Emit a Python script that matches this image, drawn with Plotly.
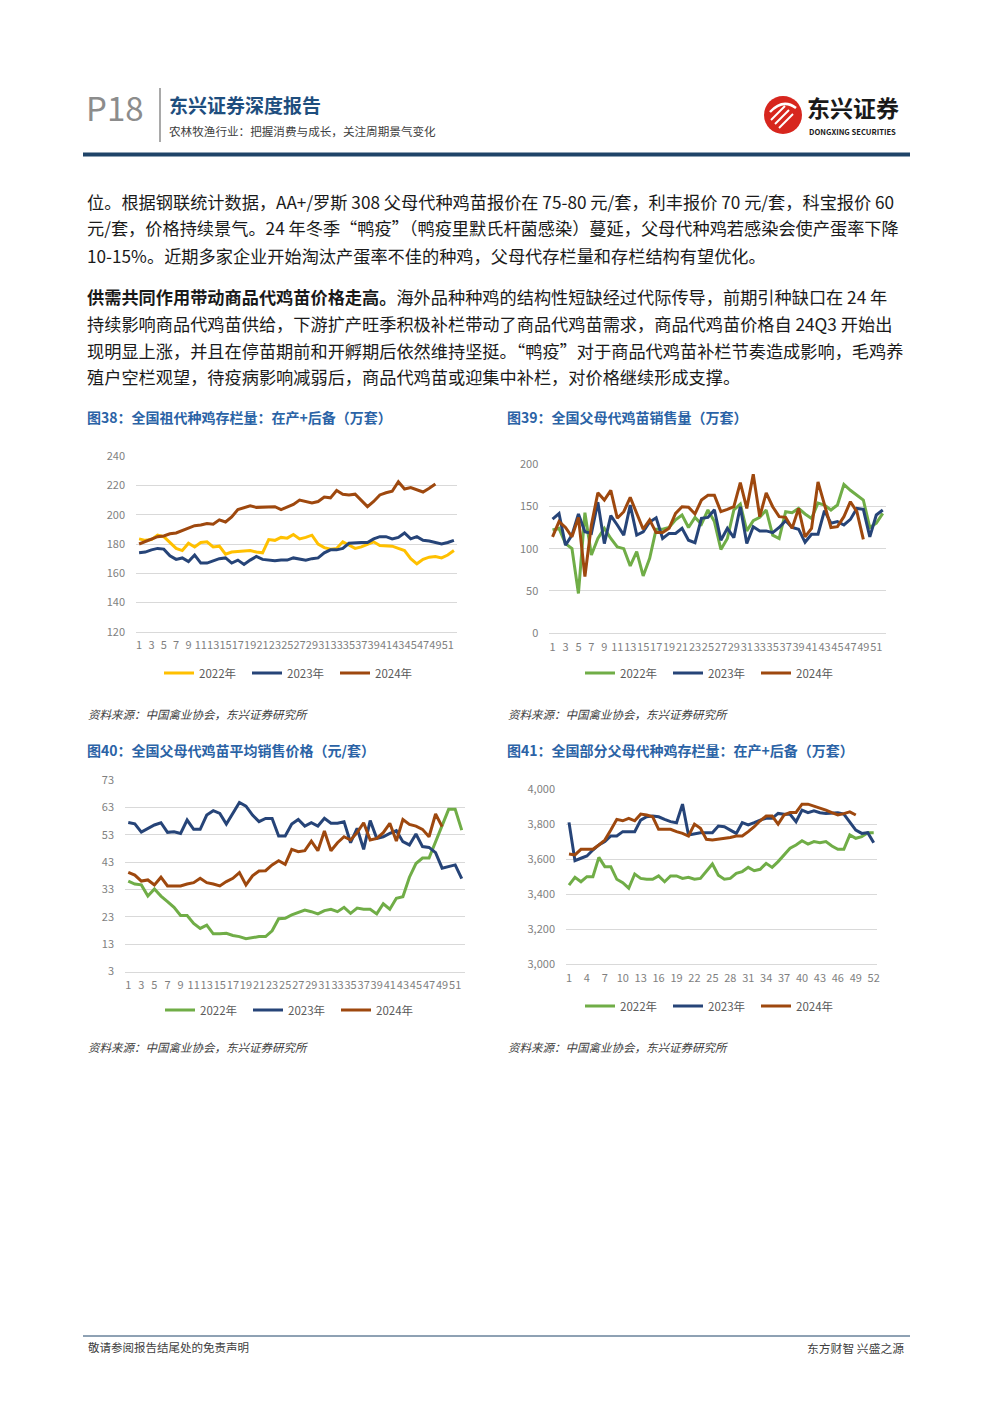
import plotly.graph_objects as go

W, H = 992, 1403
FONT = "Noto Sans CJK SC, Noto Sans, sans-serif"


def px(x):
    return x / W


def py(y):
    return 1 - y / H


weeks = list(range(1, 53))
series_names = ["2022年", "2023年", "2024年"]

# 图38 全国祖代种鸡存栏量（万套）
gp_2022 = [183.5, 182.5, 183, 186, 185, 181, 177, 175.5, 180.5, 178,
           181, 181.5, 178, 178.5, 173, 174.5, 175, 175.5, 175.5, 174.5,
           174, 183, 182.5, 184.5, 184, 186.5, 183.5, 184.5, 186, 180,
           177.5, 176.5, 177, 181.5, 179, 177, 178, 180, 181.5, 179,
           178.5, 178.5, 177, 175.5, 170, 166.5, 169.5, 171, 171.5, 170.5,
           172.5, 175.5]
gp_2023 = [174, 174.5, 176, 177, 176.5, 172, 169.5, 170.5, 168, 172.5,
           167, 167, 168.5, 170, 170.5, 167, 169, 166, 169, 171.5,
           169.5, 169, 168.5, 169, 169, 170.5, 169.5, 169, 170, 170.5,
           174, 176, 176, 177, 180.5, 181, 181, 181, 183.5, 185,
           185, 183.5, 184.5, 187.5, 183.5, 185, 182.5, 182, 181, 180,
           181, 182.5]
gp_2024 = [180, 181.5, 183, 185, 185.5, 187, 187.5, 189, 190.5, 192.5,
           193, 194, 193.5, 196.5, 195, 198.5, 203.5, 204.5, 206, 205,
           205, 205, 205.5, 203.5, 205, 207, 210, 209, 208, 209,
           212, 211.5, 216.5, 214, 213.5, 214, 210, 205.5, 209, 213.5,
           215, 216, 222.5, 217.5, 218.5, 217, 215.5, 218, 221]

# 图39 全国父母代鸡苗销售量（万套）
ps_2022 = [122, 124, 106, 100, 47, 142.5, 92.5, 112, 124, 112,
           102, 100, 79.5, 96.5, 67.7, 88.6, 123, 123, 125, 134,
           139.8, 125, 137, 129, 145.7, 132, 99, 112, 145.7, 152.8,
           121, 133, 137, 145.7, 116, 112, 143.7, 142.5, 147.6, 141,
           135.8, 154, 151.6, 145.7, 151.6, 176, 169, 163, 157.5, 125,
           130, 141.7]
ps_2023 = [135, 141.5, 104, 116, 141, 120, 118, 155, 106, 139,
           128, 116, 151.5, 116, 120, 131.5, 136.5, 112, 118, 118,
           124, 110, 107, 135.8, 137, 146, 110, 124, 113, 149.6,
           106, 126, 121, 121, 119, 125, 133, 125, 123, 107.5,
           117, 117, 145, 130, 132, 128, 134.6, 147.6, 146.5, 114,
           139.8, 145.7]
ps_2024 = [114, 132, 125, 114, 137, 67, 128, 166, 157.5, 169,
           136, 143.7, 160.6, 141, 123, 134, 119, 119, 124, 141.7,
           149.6, 149, 141, 157.5, 163, 163, 143.7, 146.5, 149.6, 178,
           147.6, 188, 137.8, 166, 149.6, 137.8, 137, 124, 147.6, 114,
           124, 179, 153.5, 125, 126, 137.8, 155.5, 143.7, 111]

# 图40 全国父母代鸡苗平均销售价格（元/套）
pp_2022 = [36.1, 35, 34.7, 30.6, 33.2, 30.6, 28.6, 26.5, 23.5, 23.5,
           20.6, 18.8, 20, 16.8, 16.8, 17, 16.2, 15.8, 15, 15.4,
           15.8, 15.8, 17.9, 22.3, 22.5, 23.7, 24.6, 25.5, 24.9, 24.1,
           25.3, 25.8, 24.9, 26.5, 24.3, 26.2, 25.8, 25.8, 24.1, 27.8,
           25.8, 29.8, 30.4, 37.5, 42.5, 44.5, 44.5, 50.5, 56.6, 62.3,
           62.3, 54.7]
pp_2023 = [57.5, 57, 54, 55.4, 56.6, 57.4, 53.9, 54.1, 53.5, 58.4,
           55, 55, 60.2, 61.8, 60.8, 56.9, 60.8, 64.8, 63.5, 60.2,
           57.8, 59, 59, 52.6, 52.6, 56.9, 58.6, 56.2, 57.4, 56.2,
           59, 57.2, 57.2, 57.8, 50.1, 55.4, 47.7, 58.2, 51.7, 52.3,
           53.5, 54.5, 50.5, 49.3, 53.3, 48.7, 48.4, 46.5, 40.8, 41.5,
           42, 37]
pp_2024 = [39.3, 38.3, 36.1, 36.5, 34.7, 37.5, 34.3, 34.4, 34.3, 35,
           35.5, 37.1, 35.5, 35, 34.3, 35.9, 37.1, 39.2, 34.7, 38,
           39.8, 39.9, 42, 43.5, 42.2, 47.7, 46.8, 47.2, 50.7, 47.2,
           54.4, 47.2, 50.1, 52.3, 51.1, 53.8, 57.4, 51.1, 51.7, 53.8,
           57.2, 50.7, 58.6, 56.8, 56.2, 55, 52.3, 60.6, 56]

# 图41 全国部分父母代种鸡存栏量（万套）
pi_2022 = [3452, 3496, 3471, 3500, 3500, 3610, 3557, 3557, 3485, 3466,
           3434, 3515, 3490, 3485, 3485, 3504, 3471, 3504, 3504, 3490,
           3496, 3485, 3490, 3529, 3572, 3508, 3485, 3490, 3519, 3529,
           3553, 3534, 3542, 3576, 3553, 3586, 3624, 3662, 3681, 3705,
           3686, 3700, 3694, 3700, 3675, 3656, 3656, 3738, 3719, 3728,
           3751, 3751]
pi_2023 = [3810, 3591, 3605, 3618, 3652, 3681, 3700, 3732, 3732, 3757,
           3757, 3757, 3823, 3842, 3846, 3842, 3827, 3814, 3808, 3914,
           3738, 3743, 3751, 3751, 3751, 3789, 3785, 3766, 3747, 3808,
           3795, 3808, 3823, 3833, 3833, 3861, 3856, 3856, 3814, 3880,
           3865, 3876, 3865, 3861, 3861, 3865, 3857, 3814, 3766, 3747,
           3751, 3694]
pi_2024 = [3629, 3624, 3656, 3656, 3656, 3681, 3709, 3766, 3827, 3819,
           3833, 3819, 3857, 3852, 3842, 3770, 3770, 3770, 3757, 3747,
           3732, 3800, 3776, 3713, 3709, 3713, 3719, 3724, 3732, 3732,
           3757, 3785, 3819, 3846, 3846, 3800, 3852, 3867, 3867, 3914,
           3914, 3903, 3890, 3880, 3865, 3852, 3860, 3870, 3852]

c_yellow = "#FFC000"
c_blue = "#264478"
c_brown = "#9E480E"
c_green = "#70AD47"
GRID = "#D9D9D9"
TICK = "#7F7F7F"

charts = [
    dict(n=1, data=[gp_2022, gp_2023, gp_2024], colors=[c_yellow, c_blue, c_brown],
         xd=(136, 457), yd=(456, 632), yr=(120, 240), dt=20, fmt="",
         xt=list(range(1, 52, 2)), leg=(159, 673)),
    dict(n=2, data=[ps_2022, ps_2023, ps_2024], colors=[c_green, c_blue, c_brown],
         xd=(549.3, 886), yd=(464, 633.3), yr=(0, 200), dt=50, fmt="",
         xt=list(range(1, 52, 2)), leg=(580, 673)),
    dict(n=3, data=[pp_2022, pp_2023, pp_2024], colors=[c_green, c_blue, c_brown],
         xd=(125, 465), yd=(780, 971.7), yr=(3, 73), dt=10, fmt="",
         xt=list(range(1, 52, 2)), leg=(160, 1010)),
    dict(n=4, data=[pi_2022, pi_2023, pi_2024], colors=[c_green, c_blue, c_brown],
         xd=(566, 876.7), yd=(789, 964.3), yr=(3000, 4000), dt=200, fmt=",",
         xt=list(range(1, 53, 3)), leg=(580, 1006)),
]

fig = go.Figure()
layout = dict(
    template="none",
    width=W, height=H, margin=dict(l=0, r=0, t=0, b=0, pad=0, autoexpand=False),
    paper_bgcolor="white", plot_bgcolor="rgba(0,0,0,0)",
    font=dict(family=FONT),
    showlegend=True,
)

for c in charts:
    n = c["n"]
    xa = "x" if n == 1 else f"x{n}"
    ya = "y" if n == 1 else f"y{n}"
    lg = "legend" if n == 1 else f"legend{n}"
    for name, vals, col in zip(series_names, c["data"], c["colors"]):
        fig.add_trace(go.Scatter(
            x=weeks[:len(vals)], y=vals, name=name, mode="lines",
            line=dict(color=col, width=3), xaxis=xa, yaxis=ya, legend=lg,
            hoverinfo="skip"))
    span = c["yr"][1] - c["yr"][0]
    layout["xaxis" if n == 1 else f"xaxis{n}"] = dict(
        domain=[px(c["xd"][0]), px(c["xd"][1])], anchor=ya,
        range=[0.5, 52.5], tickmode="array", tickvals=c["xt"],
        ticktext=[str(v) for v in c["xt"]], tickangle=0, automargin=False,
        showgrid=False, zeroline=False, showline=True, linecolor=GRID,
        linewidth=1, ticks="", ticklabelstandoff=3,
        tickfont=dict(size=11, color=TICK, family=FONT), fixedrange=True)
    layout["yaxis" if n == 1 else f"yaxis{n}"] = dict(
        domain=[py(c["yd"][1]), py(c["yd"][0])], anchor=xa, automargin=False,
        range=[c["yr"][0] - span * 0.0005, c["yr"][1] + span * 0.0005],
        tick0=c["yr"][0], dtick=c["dt"], tickformat=c["fmt"],
        showgrid=True, gridcolor=GRID, gridwidth=1, zeroline=False,
        showline=False, ticks="", ticklabelstandoff=10,
        tickfont=dict(size=11, color=TICK, family=FONT), fixedrange=True)
    layout[lg] = dict(
        orientation="h", x=px(c["leg"][0]), y=py(c["leg"][1]),
        xanchor="left", yanchor="middle", bgcolor="rgba(0,0,0,0)",
        font=dict(size=11.5, color="#595959", family=FONT),
        itemwidth=30, traceorder="normal", entrywidth=43,
        entrywidthmode="pixels")

fig.update_layout(**layout)

ann = []


def text(x, y, s, size, color="#000000", anchor="left"):
    ann.append(dict(x=px(x), y=py(y), xref="paper", yref="paper", text=s,
                    showarrow=False, xanchor=anchor, yanchor="middle",
                    font=dict(size=size, color=color, family=FONT)))


# header
text(84, 107, "P18", 33, "#8C8C8C")
text(167, 105, "<b>东兴证券深度报告</b>", 19, "#1E4E7E")
text(167, 131, "农林牧渔行业：把握消费与成长，关注周期景气变化", 11.6, "#404040")
text(805, 107, "<b>东兴证券</b>", 23, "#1A1A1A")
text(807, 131, "<b>DONGXING SECURITIES</b>", 7.6, "#1A1A1A")

# body
body = [
    (201, "位。根据钢联统计数据，AA+/罗斯 308 父母代种鸡苗报价在 75-80 元/套，利丰报价 70 元/套，科宝报价 60"),
    (228, "元/套，价格持续景气。24 年冬季“鸭疫”（鸭疫里默氏杆菌感染）蔓延，父母代种鸡若感染会使产蛋率下降"),
    (255, "10-15%。近期多家企业开始淘汰产蛋率不佳的种鸡，父母代存栏量和存栏结构有望优化。"),
    (296, "<b>供需共同作用带动商品代鸡苗价格走高。</b>海外品种种鸡的结构性短缺经过代际传导，前期引种缺口在 24 年"),
    (323, "持续影响商品代鸡苗供给，下游扩产旺季积极补栏带动了商品代鸡苗需求，商品代鸡苗价格自 24Q3 开始出"),
    (350, "现明显上涨，并且在停苗期前和开孵期后依然维持坚挺。“鸭疫”对于商品代鸡苗补栏节奏造成影响，毛鸡养"),
    (377, "殖户空栏观望，待疫病影响减弱后，商品代鸡苗或迎集中补栏，对价格继续形成支撑。"),
]
for y, s in body:
    text(85, y, s, 17.2, "#1A1A1A")

# chart titles
TITLE = "#2B63A6"
text(85, 417, "<b>图38：全国祖代种鸡存栏量：在产+后备（万套）</b>", 14, TITLE)
text(505, 417, "<b>图39：全国父母代鸡苗销售量（万套）</b>", 14, TITLE)
text(85, 750, "<b>图40：全国父母代鸡苗平均销售价格（元/套）</b>", 14, TITLE)
text(505, 750, "<b>图41：全国部分父母代种鸡存栏量：在产+后备（万套）</b>", 14, TITLE)

# sources
SRC = "<i>资料来源：中国禽业协会，东兴证券研究所</i>"
for x, y in [(86, 714), (506, 714), (86, 1047), (506, 1047)]:
    text(x, y, SRC, 11.5, "#404040")

# footer
text(86, 1347, "敬请参阅报告结尾处的免责声明", 11.5, "#404040")
text(906, 1347, "东方财智 兴盛之源", 11.8, "#404040", anchor="right")

fig.update_layout(annotations=ann)

shapes = [
    dict(type="line", xref="paper", yref="paper", x0=px(160), x1=px(160),
         y0=py(88), y1=py(142), line=dict(color="#8C8C8C", width=1.5)),
    dict(type="line", xref="paper", yref="paper", x0=px(83), x1=px(910),
         y0=py(154.5), y1=py(154.5), line=dict(color="#1F4468", width=4)),
    dict(type="line", xref="paper", yref="paper", x0=px(83), x1=px(910),
         y0=py(1336), y1=py(1336), line=dict(color="#1F4468", width=1)),
    dict(type="circle", xref="paper", yref="paper", x0=px(764), x1=px(802),
         y0=py(134), y1=py(96), fillcolor="#D7261E", line=dict(width=0)),
]
for a, b in [(771, 120), (775, 124), (779, 128)]:
    shapes.append(dict(type="line", xref="paper", yref="paper",
                       x0=px(a), x1=px(a + 14), y0=py(b), y1=py(b - 14),
                       line=dict(color="white", width=2)))
shapes.append(dict(type="path", xref="paper", yref="paper",
                   path=f"M {px(770)} {py(112)} Q {px(783)} {py(98)} {px(796)} {py(108)}",
                   line=dict(color="white", width=2.5)))
fig.update_layout(shapes=shapes)

fig.write_html(
    "out.html",
    config={"displayModeBar": False, "staticPlot": True},
    post_script="document.body.style.margin='0';document.body.style.padding='0';",
)
